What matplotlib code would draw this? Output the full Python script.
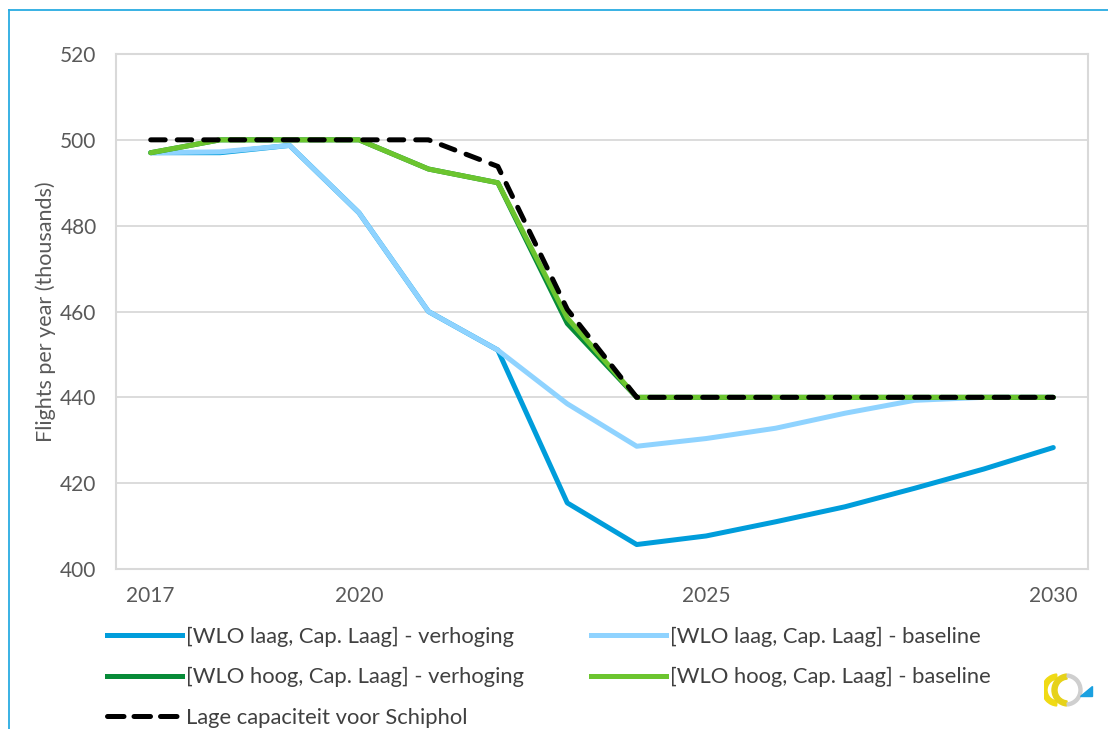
import matplotlib
matplotlib.use("Agg")
import matplotlib.pyplot as plt
from matplotlib.lines import Line2D
from matplotlib.patches import Polygon, Wedge

plt.rcParams['font.family'] = ['Lato', 'DejaVu Sans']

years = list(range(2017, 2031))
wlo_laag_verhoging = [497, 497, 498.7, 483, 460, 451, 415.4, 405.7, 407.7, 411, 414.5, 418.8, 423.3, 428.3]
wlo_laag_baseline = [497, 497.2, 498.7, 483, 460, 451, 438.5, 428.6, 430.4, 432.8, 436.3, 439.3, 440, 440]
wlo_hoog_verhoging = [497, 500, 500, 500, 493.2, 490, 457.2, 440, 440, 440, 440, 440, 440, 440]
wlo_hoog_baseline = [497, 500, 500, 500, 493.2, 490, 458.5, 440, 440, 440, 440, 440, 440, 440]
lage_capaciteit = [500, 500, 500, 500, 500, 493.8, 460.5, 440, 440, 440, 440, 440, 440, 440]
xtick_labels = [2017, 2020, 2025, 2030]
yticks = [400, 420, 440, 460, 480, 500, 520]

labels = ["[WLO laag, Cap. Laag] - verhoging", "[WLO laag, Cap. Laag] - baseline",
          "[WLO hoog, Cap. Laag] - verhoging", "[WLO hoog, Cap. Laag] - baseline",
          "Lage capaciteit voor Schiphol"]
colors = ["#009ddb", "#8fd3ff", "#078b38", "#6cc52f", "#000000"]

W, H = 1108, 729
fig = plt.figure(figsize=(W / 100, H / 100), dpi=100)
ax = fig.add_axes([116 / W, 1 - 569 / H, (1088 - 116) / W, (569 - 54) / H])

lw = 3.6
dash = (2.9, 2.4)
ax.plot(years, wlo_laag_verhoging, color=colors[0], lw=lw, solid_capstyle='round', zorder=3)
ax.plot(years, wlo_laag_baseline, color=colors[1], lw=lw, solid_capstyle='round', zorder=4)
ax.plot(years, wlo_hoog_verhoging, color=colors[2], lw=lw, solid_capstyle='round', zorder=5)
ax.plot(years, wlo_hoog_baseline, color=colors[3], lw=lw, solid_capstyle='round', zorder=6)
ax.plot(years, lage_capaciteit, color=colors[4], lw=lw, dashes=dash,
        dash_capstyle='round', zorder=7)

ax.set_xlim(2016.5, 2030.5)
ax.set_ylim(400, 520)
ax.set_yticks(yticks)
ax.set_xticks(xtick_labels)
ax.set_xticklabels([str(v) for v in xtick_labels])
ax.grid(axis='y', color='#d9d9d9', lw=1.3)
ax.set_axisbelow(True)
for s in ax.spines.values():
    s.set_color('#d9d9d9')
    s.set_linewidth(1.5)
ax.tick_params(length=0, labelsize=15, colors='#595959')
ax.tick_params(axis='x', pad=12)
ax.tick_params(axis='y', pad=14)
ax.set_ylabel("Flights per year (thousands)", fontsize=15.5, color='#595959', labelpad=3)

# legend
handles = [Line2D([0], [0], color=colors[i], lw=lw) for i in range(4)]
handles.append(Line2D([0], [0], color='black', lw=lw, linestyle='--'))
order = [0, 2, 4, 1, 3]
leg = fig.legend([handles[i] for i in order], [labels[i] for i in order],
                 loc='upper left', bbox_to_anchor=(107 / W, 1 - 627 / H), ncol=2,
                 frameon=False, fontsize=15.8, handlelength=3.42, handletextpad=0.18,
                 columnspacing=3.05, labelspacing=0.92, borderpad=0, borderaxespad=0,
                 labelcolor='#404040')
lh = leg.legend_handles[2]
lh.set_dashes((3.3, 2.0))
lh.set_dash_capstyle('round')

# outer blue frame
fig.add_artist(Line2D([9 / W, 9 / W], [0, 1 - 10 / H], color='#29abe2', lw=1.3, transform=fig.transFigure))
fig.add_artist(Line2D([9 / W, 1], [1 - 10 / H, 1 - 10 / H], color='#29abe2', lw=1.3, transform=fig.transFigure))

# small logo
lax = fig.add_axes([1044 / W, 1 - 710 / H, 52 / W, 40 / H])
lax.set_xlim(0, 52); lax.set_ylim(0, 40); lax.axis('off')
lax.add_patch(Wedge((14, 20), 16, 95, 265, width=5, color='#f0da14'))
lax.add_patch(Wedge((24, 20), 16, 95, 265, width=5, color='#e6d21a'))
lax.add_patch(Wedge((22, 20), 16, 275, 85, width=3, color='#cfcfcf'))
lax.add_patch(Polygon([[36, 14], [48, 14], [48, 24]], color='#1aa0e0'))

fig.savefig("out.png", dpi=100)
